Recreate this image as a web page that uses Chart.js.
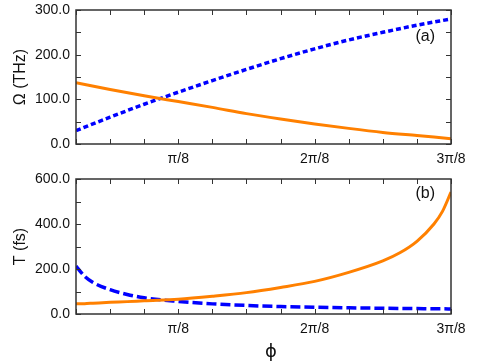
<!DOCTYPE html>
<html>
<head>
<meta charset="UTF-8">
<script src="https://cdn.jsdelivr.net/npm/chart.js"></script>
<style>
  body { margin: 0; background: #fff; overflow: hidden; }
  .wrap { position: relative; width: 485px; height: 363px; overflow: hidden; }
  canvas { position: absolute; left: 0; }
  #phiLabel { position: absolute; left: 271px; top: 350px; transform: translate(-50%, -50%);
    font: 18px "DejaVu Sans", sans-serif; color: #111; }
</style>
</head>
<body>
<div class="wrap">
  <canvas id="top" width="485" height="175" style="top:-3px"></canvas>
  <canvas id="bottom" width="485" height="197" style="top:166px"></canvas>
  <div id="phiLabel">ϕ</div>
</div>
<script>
// phi in units of pi/8
const phiA = [0.25, 0.5, 0.75, 1.0, 1.25, 1.5, 1.75, 2.0, 2.25, 2.5, 2.75, 3.0];
const omegaOrange = [137, 122, 108, 95, 82, 68, 56, 45, 35, 26, 19, 12];
const omegaBlue   = [30, 60, 89, 116, 142, 167, 191, 213, 233, 250, 266, 280];

const phiB = [0.25, 0.3125, 0.375, 0.5, 0.625, 0.75, 1.0, 1.25, 1.5, 1.75, 2.0, 2.25, 2.5, 2.625, 2.75, 2.875, 2.9375, 3.0];
const tOrange = [45, 46, 48, 52, 55, 59, 66, 79, 95, 118, 145, 185, 236, 272, 323, 400, 456, 542];
const tBlue   = [213, 168, 140, 108, 87, 72, 56, 45, 38, 33, 30, 27.5, 25.5, 24.5, 24, 23, 23, 22.5];

const xTickNames = { 1: 'π/8', 2: '2π/8', 3: '3π/8' };
const orange = '#ff8000';
const blue = '#0000ff';
const font = '"Liberation Sans", Arial, sans-serif';

const pts = (xs, ys) => xs.map((x, i) => ({ x: x, y: ys[i] }));

// frame + inward tick marks + panel tag
const frameTicks = {
  id: 'frameTicks',
  afterDatasetsDraw(chart, args, opts) {
    const { ctx, chartArea: a, scales: { x, y } } = chart;
    const len = 5;
    ctx.save();
    ctx.strokeStyle = '#333';
    ctx.lineWidth = 1;
    ctx.beginPath();
    x.ticks.forEach(t => {
      const px = Math.round(x.getPixelForValue(t.value)) + 0.5;
      ctx.moveTo(px, a.bottom); ctx.lineTo(px, a.bottom - len);
      ctx.moveTo(px, a.top); ctx.lineTo(px, a.top + len);
    });
    y.ticks.forEach(t => {
      const py = Math.round(y.getPixelForValue(t.value)) + 0.5;
      ctx.moveTo(a.left, py); ctx.lineTo(a.left + len, py);
      if (opts.rightTicks) { ctx.moveTo(a.right, py); ctx.lineTo(a.right - len, py); }
    });
    ctx.stroke();
    ctx.lineWidth = 1.5;
    ctx.strokeRect(a.left, a.top, a.right - a.left, a.bottom - a.top);
    ctx.fillStyle = '#111';
    ctx.font = '16px ' + font;
    ctx.textAlign = 'right';
    ctx.textBaseline = 'middle';
    ctx.fillText(opts.tag, a.right - 16, a.top + opts.tagDy);
    ctx.restore();
  }
};

function makePanel(id, cfg) {
  return new Chart(document.getElementById(id), {
    type: 'line',
    data: {
      datasets: [
        { data: pts(cfg.xs, cfg.orangeY), borderColor: orange, borderWidth: 3,
          pointRadius: 0, cubicInterpolationMode: 'monotone' },
        { data: pts(cfg.xs, cfg.blueY), borderColor: blue, borderWidth: 3.5, borderDash: cfg.dash,
          pointRadius: 0, cubicInterpolationMode: 'monotone' }
      ]
    },
    options: {
      responsive: false,
      animation: false,
      devicePixelRatio: 1,
      layout: { padding: { top: 0, right: 34, left: 0, bottom: 0 } },
      plugins: {
        legend: { display: false },
        tooltip: { enabled: false },
        frameTicks: { tag: cfg.tag, tagDy: cfg.tagDy, rightTicks: cfg.rightTicks }
      },
      scales: {
        x: {
          type: 'linear', min: 0.25, max: 3,
          grid: { display: false, drawTicks: false },
          border: { display: false },
          ticks: {
            stepSize: 0.25, autoSkip: false, maxRotation: 0, padding: 7,
            color: '#111', font: { family: font, size: 14 },
            callback: v => xTickNames[v] || ''
          },
          afterFit: s => { s.height = cfg.xHeight; }
        },
        y: {
          min: 0, max: cfg.yMax,
          grid: { display: false, drawTicks: false },
          border: { display: false },
          ticks: {
            stepSize: cfg.yStep, padding: 6,
            color: '#111', font: { family: font, size: 14, lineHeight: 1 },
            callback: v => (v % cfg.yLabelEvery === 0 ? v.toFixed(1) : '')
          },
          title: { display: true, text: cfg.yTitle, color: '#111',
            font: { family: font, size: 16 }, padding: { top: 11 } },
          afterFit: s => { s.width = 76; }
        }
      }
    },
    plugins: [frameTicks]
  });
}

makePanel('top', {
  xs: phiA, orangeY: omegaOrange, blueY: omegaBlue, dash: [5, 3],
  yMax: 300, yStep: 50, yLabelEvery: 100, yTitle: 'Ω (THz)',
  xHeight: 28, tag: '(a)', tagDy: 27, rightTicks: true
});

makePanel('bottom', {
  xs: phiB, orangeY: tOrange, blueY: tBlue, dash: [10, 4],
  yMax: 600, yStep: 100, yLabelEvery: 200, yTitle: 'T (fs)',
  xHeight: 49, tag: '(b)', tagDy: 15, rightTicks: false
});
</script>
</body>
</html>
